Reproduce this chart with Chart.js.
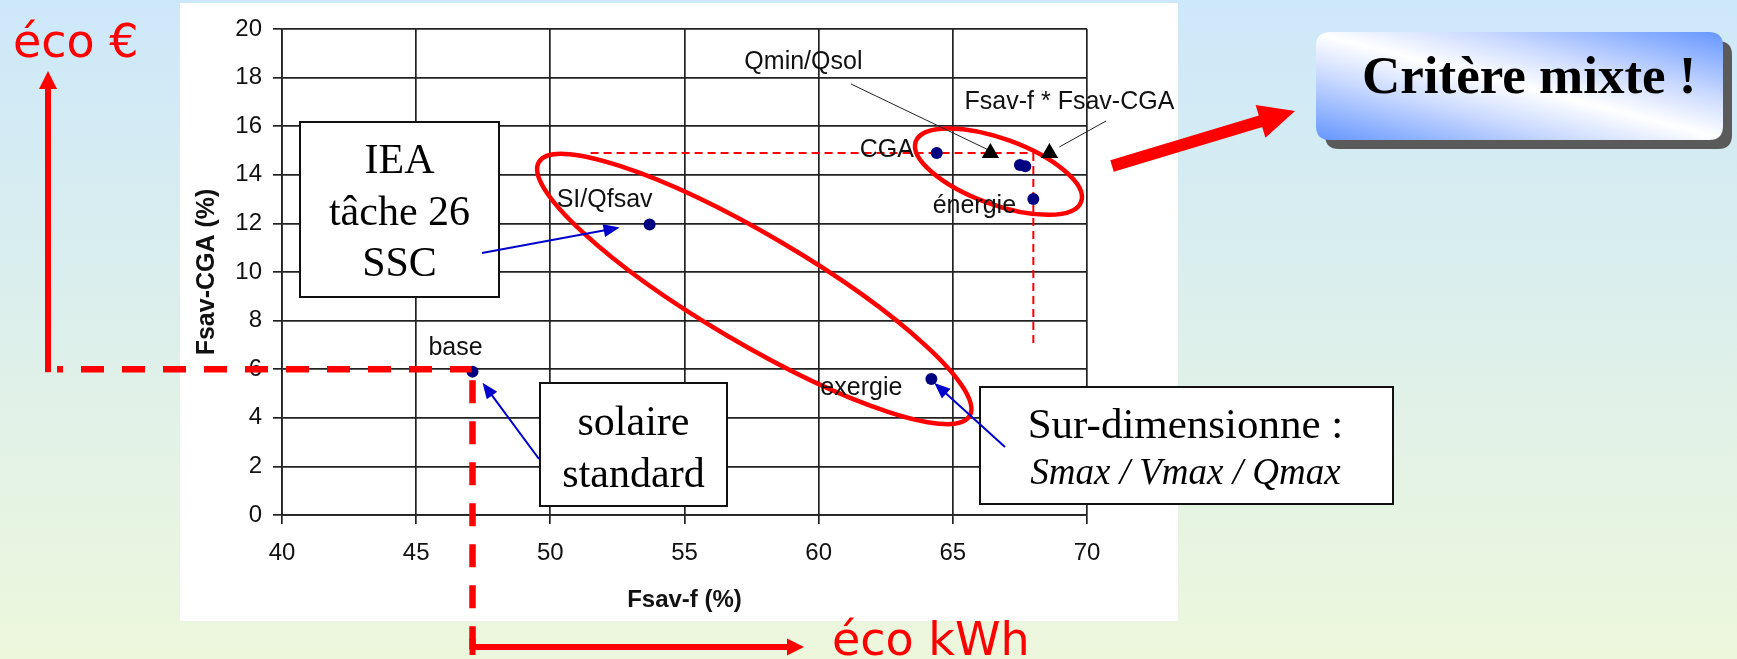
<!DOCTYPE html>
<html><head><meta charset="utf-8">
<style>html,body{margin:0;padding:0;overflow:hidden;background:#dcefee}#c{display:block}</style>
<script src="https://cdn.jsdelivr.net/npm/chart.js@4.4.0/dist/chart.umd.min.js"></script>
</head><body>
<canvas id="c" width="1737" height="659"></canvas>
<script>
// ---- data ----
const pointNames = ['base', 'SI/Qfsav', 'exergie', 'CGA', '', '', 'énergie'];
const fsavF      = [47.1, 53.7, 64.2, 64.4, 67.5, 67.7, 68.0];
const fsavCGA    = [5.9, 11.95, 5.6, 14.9, 14.4, 14.35, 13.0];
const triNames   = ['Qmin/Qsol', 'Fsav-f * Fsav-CGA'];
const triF       = [66.4, 68.6];
const triCGA     = [14.9, 14.9];
const xTicks     = [40, 45, 50, 55, 60, 65, 70];
const yTicks     = [0, 2, 4, 6, 8, 10, 12, 14, 16, 18, 20];
const xTitle = 'Fsav-f (%)';
const yTitle = 'Fsav-CGA (%)';
const mixedCrit = {f: 68.0, cga: 14.9}; // chosen compromise (dashed guide)
const basePoint = {f: 47.1, cga: 6.0};

const SANS = '"Liberation Sans", Arial, sans-serif';
const SERIF = '"Liberation Serif", "Times New Roman", serif';
const VERD = '"DejaVu Sans", Verdana, sans-serif';

function arrow(ctx, x1, y1, x2, y2, w, hl, hw, color) {
  const ang = Math.atan2(y2 - y1, x2 - x1);
  const L = Math.hypot(x2 - x1, y2 - y1);
  ctx.save(); ctx.translate(x1, y1); ctx.rotate(ang);
  ctx.fillStyle = color;
  ctx.fillRect(0, -w / 2, L - hl + 1, w);
  ctx.beginPath(); ctx.moveTo(L, 0); ctx.lineTo(L - hl, -hw / 2); ctx.lineTo(L - hl, hw / 2); ctx.closePath(); ctx.fill();
  ctx.restore();
}
function textBox(ctx, x, y, w, h, lines) {
  ctx.fillStyle = '#fff'; ctx.fillRect(x, y, w, h);
  ctx.strokeStyle = '#111'; ctx.lineWidth = 2; ctx.strokeRect(x, y, w, h);
  ctx.fillStyle = '#000'; ctx.textAlign = 'center'; ctx.textBaseline = 'alphabetic';
  lines.forEach(l => { ctx.font = l.font; ctx.fillText(l.t, x + w / 2 + (l.dx || 0), l.y); });
}
function roundRect(ctx, x, y, w, h, r) {
  ctx.beginPath();
  ctx.moveTo(x + r, y); ctx.lineTo(x + w - r, y); ctx.quadraticCurveTo(x + w, y, x + w, y + r);
  ctx.lineTo(x + w, y + h - r); ctx.quadraticCurveTo(x + w, y + h, x + w - r, y + h);
  ctx.lineTo(x + r, y + h); ctx.quadraticCurveTo(x, y + h, x, y + h - r);
  ctx.lineTo(x, y + r); ctx.quadraticCurveTo(x, y, x + r, y); ctx.closePath();
}

const deco = {
  id: 'deco',
  beforeDraw(chart) {
    const ctx = chart.ctx; ctx.save();
    const g = ctx.createLinearGradient(0, 0, 0, 659);
    g.addColorStop(0, '#cde8fa'); g.addColorStop(1, '#edf7dc');
    ctx.fillStyle = g; ctx.fillRect(0, 0, 1737, 659);
    ctx.fillStyle = '#fff'; ctx.fillRect(180, 3, 998, 618);
    // "Critère mixte !" button
    ctx.fillStyle = '#5a5a5a'; roundRect(ctx, 1325, 41, 407, 108, 14); ctx.fill();
    const bg = ctx.createLinearGradient(1494, 186, 1546, -14);
    bg.addColorStop(0, '#6596ff'); bg.addColorStop(0.3, '#c8d8ff'); bg.addColorStop(0.5, '#ffffff');
    bg.addColorStop(0.7, '#c8d8ff'); bg.addColorStop(1, '#6596ff');
    ctx.fillStyle = bg; roundRect(ctx, 1316, 32, 407, 108, 14); ctx.fill();
    ctx.fillStyle = '#000'; ctx.font = 'bold 53px ' + SERIF; ctx.textAlign = 'left'; ctx.textBaseline = 'alphabetic';
    ctx.fillText('Critère mixte !', 1362, 93);
    ctx.restore();
  },
  beforeDatasetsDraw(chart) {
    const ctx = chart.ctx, xs = chart.scales.x, ys = chart.scales.y;
    ctx.save();
    // thin red dashed guides to the compromise point
    const px = xs.getPixelForValue(mixedCrit.f), py = ys.getPixelForValue(mixedCrit.cga);
    ctx.strokeStyle = '#ff0000'; ctx.lineWidth = 2; ctx.setLineDash([8, 5]);
    ctx.beginPath(); ctx.moveTo(xs.getPixelForValue(51.5), py); ctx.lineTo(px, py); ctx.stroke();
    ctx.beginPath(); ctx.moveTo(px, py); ctx.lineTo(px, ys.getPixelForValue(7.0)); ctx.stroke();
    ctx.setLineDash([]);
    // red ellipses
    ctx.lineWidth = 4.5;
    ctx.beginPath(); ctx.ellipse(xs.getPixelForValue(57.6), ys.getPixelForValue(9.3), 250, 54, 30.5 * Math.PI / 180, 0, Math.PI * 2); ctx.stroke();
    ctx.beginPath(); ctx.ellipse(xs.getPixelForValue(66.7), ys.getPixelForValue(14.13), 88, 33, 20 * Math.PI / 180, 0, Math.PI * 2); ctx.stroke();
    // text boxes
    textBox(ctx, 300, 122, 199, 175, [
      {t: 'IEA', font: '42px ' + SERIF, y: 173},
      {t: 'tâche 26', font: '42px ' + SERIF, y: 225},
      {t: 'SSC', font: '42px ' + SERIF, y: 276}]);
    textBox(ctx, 540, 383, 187, 123, [
      {t: 'solaire', font: '42px ' + SERIF, y: 435},
      {t: 'standard', font: '42px ' + SERIF, y: 487}]);
    textBox(ctx, 980, 387, 413, 117, [
      {t: 'Sur-dimensionne :', font: '43px ' + SERIF, y: 438, dx: -1},
      {t: 'Smax / Vmax / Qmax', font: 'italic 37px ' + SERIF, y: 484, dx: -1}]);
    // blue arrows from the boxes to the points
    arrow(ctx, 482, 253, xs.getPixelForValue(fsavF[1]) - 30, ys.getPixelForValue(fsavCGA[1]) + 3, 2, 16, 13, '#0000cc');
    arrow(ctx, 539, 459, xs.getPixelForValue(fsavF[0]) + 10, ys.getPixelForValue(fsavCGA[0]) + 11, 2, 16, 13, '#0000cc');
    arrow(ctx, 1005, 447, xs.getPixelForValue(fsavF[2]) + 3, ys.getPixelForValue(fsavCGA[2]) + 4, 2, 16, 13, '#0000cc');
    // black leader lines for the triangles
    ctx.strokeStyle = '#222'; ctx.lineWidth = 1;
    const t0x = xs.getPixelForValue(triF[0]), t0y = ys.getPixelForValue(triCGA[0]);
    const t1x = xs.getPixelForValue(triF[1]), t1y = ys.getPixelForValue(triCGA[1]);
    ctx.beginPath(); ctx.moveTo(851, 84); ctx.lineTo(t0x - 2, t0y - 3); ctx.stroke();
    ctx.beginPath(); ctx.moveTo(1106, 121); ctx.lineTo(t1x + 10, t1y - 6); ctx.stroke();
    ctx.restore();
  },
  afterDatasetsDraw(chart) {
    const ctx = chart.ctx, xs = chart.scales.x, ys = chart.scales.y;
    ctx.save();
    ctx.fillStyle = '#111'; ctx.font = '25px ' + SANS; ctx.textAlign = 'center'; ctx.textBaseline = 'middle';
    const off = {'base': [-17, -24], 'SI/Qfsav': [-45, -25], 'exergie': [-70, 9], 'CGA': [-50, -3], 'énergie': [-59, 7]};
    pointNames.forEach((n, i) => {
      if (!n) return;
      const o = off[n] || [0, -20];
      ctx.fillText(n, xs.getPixelForValue(fsavF[i]) + o[0], ys.getPixelForValue(fsavCGA[i]) + o[1]);
    });
    const toff = [[-187, -91], [20, -51]];
    triNames.forEach((n, i) => {
      ctx.fillText(n, xs.getPixelForValue(triF[i]) + toff[i][0], ys.getPixelForValue(triCGA[i]) + toff[i][1]);
    });
    ctx.restore();
  },
  afterDraw(chart) {
    const ctx = chart.ctx, xs = chart.scales.x, ys = chart.scales.y;
    ctx.save();
    const bx = xs.getPixelForValue(basePoint.f), by = ys.getPixelForValue(basePoint.cga);
    const red = '#ff0000';
    ctx.strokeStyle = red; ctx.lineWidth = 6.5; ctx.lineCap = 'butt';
    ctx.setLineDash([23, 18]); ctx.lineDashOffset = 17;
    ctx.beginPath(); ctx.moveTo(57, by); ctx.lineTo(bx - 1, by); ctx.stroke();
    ctx.lineDashOffset = 0;
    ctx.beginPath(); ctx.moveTo(bx, by + 11); ctx.lineTo(bx, 654); ctx.stroke();
    ctx.setLineDash([]);
    // axes arrows "éco"
    arrow(ctx, 48, by + 3, 48, 71, 6, 18, 18, red);
    ctx.fillStyle = red; ctx.fillRect(bx - 3, 639, 6, 16);
    arrow(ctx, bx, 647, 804, 647, 6, 17, 17, red);
    ctx.fillStyle = red; ctx.textAlign = 'left'; ctx.textBaseline = 'alphabetic';
    ctx.font = '46px ' + VERD;
    ctx.fillText('éco €', 13, 57);
    ctx.fillText('éco kWh', 832, 655);
    // big arrow toward "Critère mixte !"
    arrow(ctx, 1112, 166, 1295, 111, 12, 36, 34, red);
    ctx.restore();
  }
};

Chart.defaults.font.family = SANS;
new Chart(document.getElementById('c'), {
  type: 'scatter',
  data: {
    datasets: [
      {label: 'critères', data: fsavF.map((x, i) => ({x: x, y: fsavCGA[i]})),
       pointStyle: 'circle', pointRadius: 6, backgroundColor: '#000080', borderColor: '#000080', borderWidth: 0},
      {label: 'mixtes', data: triF.map((x, i) => ({x: x, y: triCGA[i]})),
       pointStyle: 'triangle', pointRadius: 10, backgroundColor: '#000', borderColor: '#000', borderWidth: 0}
    ]
  },
  options: {
    responsive: false, animation: false, devicePixelRatio: 1,
    layout: {padding: {left: 180, right: 650, top: 29, bottom: 44}},
    plugins: {legend: {display: false}, tooltip: {enabled: false}},
    scales: {
      x: {
        type: 'linear', min: xTicks[0], max: xTicks[xTicks.length - 1],
        afterBuildTicks: s => { s.ticks = xTicks.map(v => ({value: v})); },
        afterFit: s => { s.height = 100; },
        grid: {color: '#222', lineWidth: 1.7, tickLength: 9, drawTicks: true},
        border: {color: '#222', width: 1.7},
        ticks: {font: {family: SANS, size: 24}, color: '#111', padding: 15, maxRotation: 0, autoSkip: false},
        title: {display: true, text: xTitle, font: {family: SANS, size: 24, weight: 'bold'}, color: '#111', padding: {top: 0, bottom: 0}}
      },
      y: {
        type: 'linear', min: yTicks[0], max: yTicks[yTicks.length - 1],
        afterBuildTicks: s => { s.ticks = yTicks.map(v => ({value: v})); },
        afterFit: s => { s.width = 102; },
        grid: {color: '#222', lineWidth: 1.7, tickLength: 9, drawTicks: true},
        border: {color: '#222', width: 1.7},
        ticks: {font: {family: SANS, size: 24}, color: '#111', padding: 11, autoSkip: false},
        title: {display: true, text: yTitle, font: {family: SANS, size: 25, weight: 'bold'}, color: '#111', padding: {top: 12, bottom: 0}}
      }
    }
  },
  plugins: [deco]
});
</script>
</body></html>
